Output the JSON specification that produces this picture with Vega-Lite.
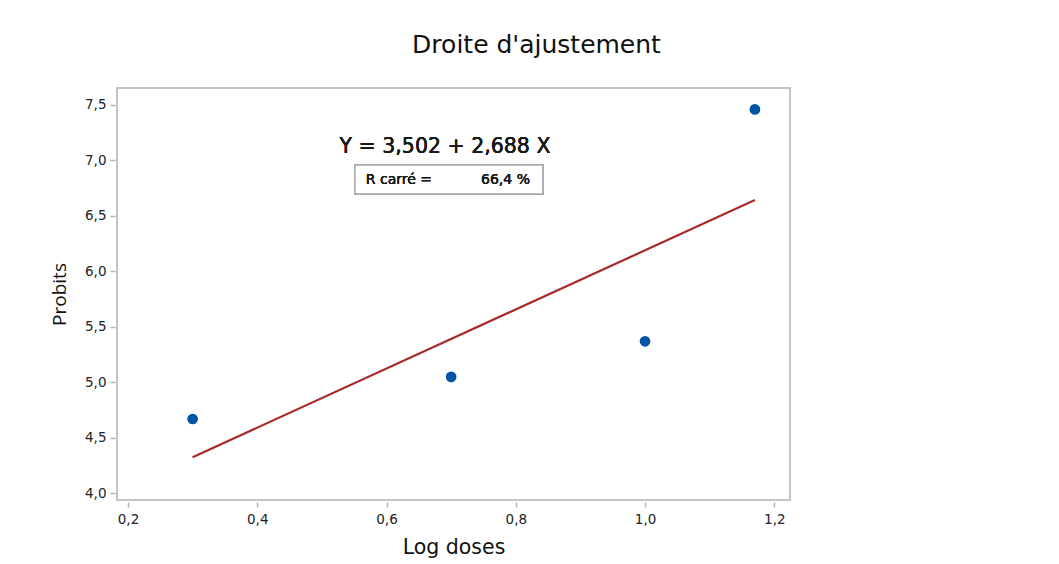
{
  "$schema": "https://vega.github.io/schema/vega-lite/v6.json",
  "autosize": "none",
  "width": 673,
  "height": 412,
  "padding": {"left": 117, "top": 88, "right": 269, "bottom": 64},
  "background": "white",
  "title": {
    "text": "Droite d'ajustement",
    "font": "DejaVu Sans",
    "fontSize": 25,
    "fontWeight": "normal",
    "color": "#111111",
    "anchor": "middle",
    "dx": 83,
    "offset": 30
  },
  "config": {
    "font": "DejaVu Sans",
    "view": {"stroke": "#c4c4c4", "strokeWidth": 2},
    "axis": {
      "domain": false,
      "grid": false,
      "tickColor": "#b5b5b5",
      "tickSize": 5,
      "tickWidth": 1.5,
      "offset": 2,
      "labelFont": "DejaVu Sans",
      "labelFontSize": 13.5,
      "labelColor": "#222222",
      "titleFont": "DejaVu Sans",
      "titleFontWeight": "normal",
      "titleColor": "#111111"
    }
  },
  "data": {
    "values": [
      {"logdose": 0.30, "probit": 4.67},
      {"logdose": 0.70, "probit": 5.05},
      {"logdose": 1.00, "probit": 5.37},
      {"logdose": 1.17, "probit": 7.46}
    ]
  },
  "layer": [
    {
      "transform": [{"regression": "probit", "on": "logdose"}],
      "mark": {"type": "line", "color": "#a82a2a", "strokeWidth": 2.2},
      "encoding": {
        "x": {
          "field": "logdose",
          "type": "quantitative",
          "scale": {"domain": [0.183, 1.2243], "nice": false, "zero": false},
          "axis": {
            "title": "Log doses",
            "titleFontSize": 20.5,
            "values": [0.2, 0.4, 0.6, 0.8, 1.0, 1.2],
            "labelExpr": "replace(format(datum.value, '.1f'), '.', ',')",
            "labelPadding": 5,
            "titlePadding": 12
          }
        },
        "y": {
          "field": "probit",
          "type": "quantitative",
          "scale": {"domain": [3.94, 7.653], "nice": false, "zero": false},
          "axis": {
            "title": "Probits",
            "titleFont": "Open Sans",
            "titleFontSize": 19,
            "values": [4.0, 4.5, 5.0, 5.5, 6.0, 6.5, 7.0, 7.5],
            "labelExpr": "replace(format(datum.value, '.1f'), '.', ',')",
            "labelPadding": 4,
            "titlePadding": 15
          }
        }
      }
    },
    {
      "mark": {"type": "point", "filled": true, "shape": "circle", "size": 115, "color": "#0055a5", "opacity": 1},
      "encoding": {
        "x": {"field": "logdose", "type": "quantitative"},
        "y": {"field": "probit", "type": "quantitative"}
      }
    },
    {
      "mark": {"type": "text", "font": "DejaVu Sans", "fontSize": 20.5, "fontWeight": "normal", "color": "#1a1a1a", "align": "center", "baseline": "middle"},
      "encoding": {
        "x": {"datum": 0.6905},
        "y": {"datum": 7.121},
        "text": {"value": "Y = 3,502 + 2,688 X"}
      }
    },
    {
      "mark": {"type": "rect", "fill": "white", "stroke": "#a8a8a8", "strokeWidth": 1.5},
      "encoding": {
        "x": {"datum": 0.551},
        "x2": {"datum": 0.842},
        "y": {"datum": 6.959},
        "y2": {"datum": 6.698}
      }
    },
    {
      "mark": {"type": "text", "font": "DejaVu Sans", "fontSize": 14, "fontWeight": "normal", "color": "#1a1a1a", "align": "left", "baseline": "middle"},
      "encoding": {
        "x": {"datum": 0.568},
        "y": {"datum": 6.826},
        "text": {"value": "R carré ="}
      }
    },
    {
      "mark": {"type": "text", "font": "DejaVu Sans", "fontSize": 14, "fontWeight": "normal", "color": "#1a1a1a", "align": "right", "baseline": "middle"},
      "encoding": {
        "x": {"datum": 0.822},
        "y": {"datum": 6.826},
        "text": {"value": "66,4 %"}
      }
    }
  ]
}
